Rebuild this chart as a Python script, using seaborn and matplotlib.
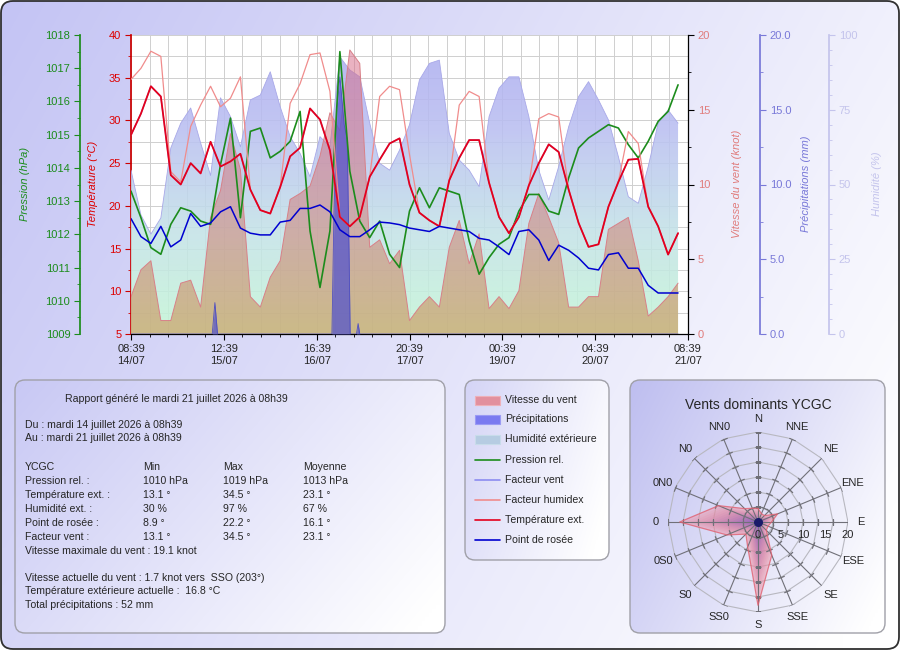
import numpy as np
import pandas as pd
import matplotlib
matplotlib.use("Agg")
import matplotlib.pyplot as plt
import seaborn as sns
from matplotlib.patches import FancyBboxPatch, Rectangle
from matplotlib.lines import Line2D
from matplotlib.ticker import MultipleLocator, FixedLocator, FormatStrFormatter

sns.set_theme(style="white")
plt.rcParams['font.family'] = ['Liberation Sans', 'DejaVu Sans']

# ---------------- data ----------------
hours = np.arange(0, 166, 3)  # hours since 14/07 08:39

temperature = [28.3, 30.8, 34.0, 32.8, 23.6, 22.5, 25.0, 23.8, 27.5, 24.6,
               25.2, 26.1, 21.9, 19.5, 19.1, 22.2, 25.8, 26.8, 31.4, 30.1,
               26.5, 18.7, 17.6, 18.7, 23.4, 25.4, 27.3, 27.9, 22.5, 19.2,
               18.3, 17.6, 23.0, 25.6, 27.7, 27.7, 22.7, 18.7, 16.8, 18.7,
               22.4, 25.0, 27.2, 26.3, 21.9, 18.0, 15.2, 15.5, 19.9, 22.8,
               25.4, 25.5, 19.9, 17.6, 14.3, 16.8]

humidex = [34.8, 36.1, 38.1, 37.5, 24.0, 22.8, 29.3, 31.8, 34.0, 31.6,
           32.6, 35.1, 21.9, 19.5, 19.1, 22.2, 32.0, 34.3, 37.7, 37.9,
           33.4, 18.7, 17.6, 18.7, 23.4, 32.8, 34.0, 33.6, 26.0, 19.2,
           18.3, 17.6, 23.0, 31.8, 33.4, 32.8, 22.7, 18.7, 16.8, 18.7,
           22.4, 30.2, 30.8, 30.4, 21.9, 18.0, 15.2, 15.5, 19.9, 22.8,
           28.7, 27.3, 19.9, 17.6, 14.3, 16.8]

windchill = [28.3, 30.8, 34.0, 32.8, 23.6, 22.5, 25.0, 23.8, 27.5, 24.6,
             25.2, 26.1, 21.9, 19.5, 19.1, 22.2, 25.8, 26.8, 31.4, 30.1,
             26.5, 18.7, 17.6, 18.7, 23.4, 25.4, 27.3, 27.9, 22.5, 19.2,
             18.3, 17.6, 23.0, 25.6, 27.7, 27.7, 22.7, 18.7, 16.8, 18.7,
             22.4, 25.0, 27.2, 26.3, 21.9, 18.0, 15.2, 15.5, 19.9, 22.8,
             25.4, 25.5, 19.9, 17.6, 14.3, 16.8]

dewpoint = [18.5, 16.4, 15.6, 17.6, 15.2, 16.0, 19.1, 17.6, 18.0, 19.3,
            19.9, 17.4, 16.8, 16.6, 16.6, 18.1, 18.3, 19.7, 19.7, 20.1,
            19.3, 17.2, 16.4, 16.4, 17.2, 18.1, 18.0, 17.8, 17.4, 17.2,
            17.0, 17.6, 17.4, 17.2, 17.0, 16.2, 16.0, 15.2, 14.3, 17.0,
            17.2, 16.0, 13.6, 15.4, 14.8, 13.9, 12.7, 12.5, 14.3, 14.5,
            12.7, 12.7, 10.7, 9.8, 9.8, 9.8]

pressure = [1013.3, 1012.5, 1011.6, 1011.4, 1012.3, 1012.8, 1012.7, 1012.4, 1012.3, 1014.1,
            1015.5, 1012.5, 1015.1, 1015.2, 1014.3, 1014.5, 1014.8, 1015.7, 1012.1, 1010.4,
            1012.1, 1017.5, 1013.9, 1012.4, 1011.9, 1012.4, 1011.4, 1011.0, 1012.7, 1013.4,
            1012.8, 1013.4, 1013.3, 1013.2, 1011.8, 1010.8, 1011.3, 1011.7, 1011.9, 1012.7,
            1013.2, 1013.2, 1012.7, 1012.6, 1013.7, 1014.6, 1014.9, 1015.1, 1015.3, 1015.2,
            1014.7, 1014.3, 1014.8, 1015.4, 1015.7, 1016.5]

humidity = [54.8, 39.8, 33.4, 38.8, 62.2, 70.5, 75.6, 63.9, 53.0, 79.0,
            72.7, 62.6, 78.3, 79.9, 87.7, 76.0, 66.0, 60.4, 52.6, 66.0,
            62.6, 92.7, 88.3, 86.0, 70.5, 57.1, 54.8, 61.5, 70.0, 85.0,
            90.5, 91.6, 67.1, 58.2, 54.8, 49.3, 72.7, 82.2, 86.0, 86.0,
            72.7, 54.8, 44.8, 56.0, 69.3, 79.4, 84.4, 78.3, 71.6, 59.3,
            45.9, 43.7, 56.0, 70.5, 74.9, 70.5]

wind = [2.5, 4.3, 4.9, 0.9, 0.9, 3.4, 3.6, 1.8, 7.8, 9.6,
        13.4, 11.0, 2.5, 1.8, 3.8, 4.9, 9.0, 9.4, 9.9, 11.9,
        14.8, 13.6, 19.0, 18.1, 5.8, 6.3, 4.7, 5.6, 0.9, 1.8,
        2.5, 1.8, 5.8, 7.6, 4.7, 6.7, 1.7, 2.5, 1.7, 2.9,
        7.4, 9.4, 7.8, 6.1, 1.8, 1.8, 2.5, 2.5, 7.0, 7.4,
        7.8, 4.9, 1.2, 1.8, 2.5, 3.4]

rain_hours = [0, 24.5, 25.3, 26.1, 60.6, 61.2, 62.1, 63.0, 64.3, 65.2, 65.8, 66.1, 68.0, 68.5, 69.0, 165]
rain_mm = [0, 0, 2.1, 0, 0, 8.0, 15.0, 17.2, 14.0, 13.0, 5.0, 0, 0, 0.7, 0, 0]

tick_hours = [0, 28, 56, 84, 112, 140, 168]
tick_labels = ["08:39\n14/07", "12:39\n15/07", "16:39\n16/07", "20:39\n17/07",
               "00:39\n19/07", "04:39\n20/07", "08:39\n21/07"]

rose_dirs = ["N", "NNE", "NE", "ENE", "E", "ESE", "SE", "SSE",
             "S", "SS0", "S0", "0S0", "0", "0N0", "N0", "NN0"]
rose_vals = [3.0, 2.0, 2.0, 4.7, 3.0, 2.4, 2.6, 8.0,
             18.5, 6.0, 3.8, 7.5, 17.4, 9.5, 4.2, 3.3]

stat_rows = ["YCGC", "Pression rel. :", "Température ext. :", "Humidité ext. :",
             "Point de rosée :", "Facteur vent :"]
stat_min = ["Min", "1010 hPa", "13.1 °", "30 %", "8.9 °", "13.1 °"]
stat_max = ["Max", "1019 hPa", "34.5 °", "97 %", "22.2 °", "34.5 °"]
stat_avg = ["Moyenne", "1013 hPa", "23.1 °", "67 %", "16.1 °", "23.1 °"]

legend_labels = ["Vitesse du vent", "Précipitations", "Humidité extérieure", "Pression rel.",
                 "Facteur vent", "Facteur humidex", "Température ext.", "Point de rosée"]

# ---------------- colours ----------------
C_PRES = "#1c8c1c"
C_TEMP = "#e4001c"
C_DEW = "#0000d0"
C_HUMIDEX = "#f08c8c"
C_CHILL = "#8c8cf0"
C_WINDTXT = "#e07c7c"
C_RAIN = "#7878d8"
C_HUM = "#c4c4ec"

W, H = 900, 650
fig = plt.figure(figsize=(9, 6.5), dpi=100)
fig.patch.set_facecolor("white")


def fx(x):
    return x / W


def fy(y):
    return 1 - y / H


canvas = fig.add_axes([0, 0, 1, 1], zorder=-5)
canvas.set_xlim(0, W)
canvas.set_ylim(H, 0)
canvas.axis('off')


def grad_img(c0, c1, wx, wy, n=120):
    xs = np.linspace(0, 1, n)
    X, Y = np.meshgrid(xs, xs)
    t = np.clip(wx * X + wy * Y, 0, 1)[..., None]
    a = np.array(c0) / 255.0
    b = np.array(c1) / 255.0
    return a[None, None, :] * (1 - t) + b[None, None, :] * t


def rounded_box(x0, y0, x1, y1, c0, c1, wx, wy, r=10, ec="#a0a0a8", lw=1.0):
    patch = FancyBboxPatch((x0, y0), x1 - x0, y1 - y0,
                           boxstyle=f"round,pad=0,rounding_size={r}",
                           facecolor="none", edgecolor=ec, linewidth=lw, zorder=2)
    canvas.add_patch(patch)
    im = canvas.imshow(grad_img(c0, c1, wx, wy), extent=(x0, x1, y1, y0), origin='upper',
                       aspect='auto', zorder=1, interpolation='bilinear')
    im.set_clip_path(patch)


LAV = (196, 196, 244)
rounded_box(1, 1, 899, 649, LAV, (255, 255, 255), 0.75, 0.3, r=12, ec="#303030", lw=1.3)
rounded_box(15, 380, 445, 633, (200, 200, 244), (255, 255, 255), 0.7, 0.35, r=10)
rounded_box(465, 380, 609, 560, (212, 212, 246), (255, 255, 255), 0.8, 0.3, r=10)
rounded_box(630, 380, 885, 633, (190, 190, 240), (255, 255, 255), 0.7, 0.35, r=10)
canvas.set_xlim(0, W)
canvas.set_ylim(H, 0)

# ---------------- main chart ----------------
L, R, T, B = 131, 688, 35, 334
ax = fig.add_axes([fx(L), fy(B), (R - L) / W, (B - T) / H])
ax.set_facecolor("white")

ax_hum = ax.twinx()
ax_wind = ax.twinx()
ax_rain = ax.twinx()
ax_pres = ax.twinx()
ax_temp = ax.twinx()

FS = 8
FS_BOX = 7.6


def gradient_area(axx, x, y, stops, ymax, alpha, z=1):
    coll = axx.fill_between(x, 0, y, facecolor='none', edgecolor='none')
    n = 256
    v = np.linspace(0, 1, n)
    pos = [s[0] for s in stops]
    rgb = np.stack([np.interp(v, pos, [s[1][i] / 255.0 for s in stops]) for i in range(3)], axis=-1)
    img = np.concatenate([rgb.reshape(n, 1, 3), np.full((n, 1, 1), alpha)], axis=2)
    im = axx.imshow(img, extent=(x[0], x[-1], 0, ymax), origin='lower', aspect='auto',
                    zorder=z, interpolation='bilinear')
    im.set_clip_path(coll.get_paths()[0], transform=axx.transData)


# humidity area
gradient_area(ax_hum, hours, humidity,
              [(0.0, (196, 246, 214)), (0.35, (196, 226, 232)), (0.7, (186, 190, 242)), (1.0, (172, 172, 240))],
              100, 0.88)
sns.lineplot(x=hours, y=humidity, ax=ax_hum, color="#a8a8e8", linewidth=0.6, legend=False)

# wind area
gradient_area(ax_wind, hours, wind,
              [(0.0, (204, 130, 60)), (0.4, (208, 120, 115)), (1.0, (218, 105, 140))],
              20, 0.52)
sns.lineplot(x=hours, y=wind, ax=ax_wind, color="#d88088", linewidth=0.7, legend=False)

# precipitation area
ax_rain.fill_between(rain_hours, 0, rain_mm, color=(0.33, 0.33, 0.80), alpha=0.75, linewidth=0)
sns.lineplot(x=rain_hours, y=rain_mm, ax=ax_rain, color="#5050c0", linewidth=0.6, legend=False)

# lines
sns.lineplot(x=hours, y=pressure, ax=ax_pres, color=C_PRES, linewidth=1.2, legend=False)
sns.lineplot(x=hours, y=windchill, ax=ax_temp, color=C_CHILL, linewidth=1.0, legend=False)
sns.lineplot(x=hours, y=humidex, ax=ax_temp, color=C_HUMIDEX, linewidth=0.9, legend=False)
sns.lineplot(x=hours, y=temperature, ax=ax_temp, color=C_TEMP, linewidth=1.3, legend=False)
sns.lineplot(x=hours, y=dewpoint, ax=ax_temp, color=C_DEW, linewidth=1.1, legend=False)

# limits
ax.set_xlim(0, 168)
ax.set_ylim(5, 40)
ax_hum.set_ylim(0, 100)
ax_wind.set_ylim(0, 20)
ax_rain.set_ylim(0, 20)
ax_pres.set_ylim(1009, 1018)
ax_temp.set_ylim(5, 40)

for a in [ax, ax_hum, ax_wind, ax_rain, ax_pres, ax_temp]:
    for s in a.spines.values():
        s.set_visible(False)
    a.set_ylabel("")
    a.set_xlabel("")

# host: temperature scale + grid + x axis
ax.grid(True, which='both', color="#cfcfcf", linewidth=0.7)
ax.set_axisbelow(True)
ax.xaxis.set_major_locator(FixedLocator(tick_hours))
ax.set_xticklabels(tick_labels, fontsize=FS, linespacing=1.3)
ax.xaxis.set_minor_locator(MultipleLocator(5.6))
ax.tick_params(axis='x', which='major', bottom=True, length=4, width=0.8, color='black', direction='out', pad=3)
ax.tick_params(axis='x', which='minor', bottom=True, length=2, width=0.6, color='black', direction='out')
ax.spines['bottom'].set_visible(True)
ax.spines['bottom'].set_color('black')
ax.spines['bottom'].set_linewidth(0.9)
ax.spines['left'].set_visible(True)
ax.spines['left'].set_color('#cc0000')
ax.yaxis.set_major_locator(MultipleLocator(5))
ax.yaxis.set_minor_locator(MultipleLocator(2.5))
ax.tick_params(axis='y', which='major', left=True, length=4, width=0.8, color='#cc0000',
               labelcolor='#dd0000', labelsize=FS, direction='out', pad=3)
ax.tick_params(axis='y', which='minor', left=True, length=2, width=0.6, color='#cc0000', direction='out')

# temperature lines axis: no decorations
ax_temp.set_yticks([])
ax_temp.tick_params(right=False, labelright=False)

# pressure axis (left, offset)
ax_pres.yaxis.set_ticks_position('left')
ax_pres.yaxis.set_label_position('left')
ax_pres.spines['left'].set_visible(True)
ax_pres.spines['left'].set_position(('axes', (80 - L) / (R - L)))
ax_pres.spines['left'].set_color(C_PRES)
ax_pres.yaxis.set_major_locator(MultipleLocator(1))
ax_pres.yaxis.set_minor_locator(MultipleLocator(0.5))
ax_pres.yaxis.set_major_formatter(FormatStrFormatter('%d'))
ax_pres.tick_params(axis='y', which='major', left=True, right=False, labelleft=True, labelright=False,
                    length=4, width=0.8, color=C_PRES, labelcolor=C_PRES, labelsize=FS, direction='out', pad=3)
ax_pres.tick_params(axis='y', which='minor', left=True, right=False, length=2, width=0.6, color=C_PRES,
                    direction='out')

# wind axis (right, black spine)
ax_wind.spines['right'].set_visible(True)
ax_wind.spines['right'].set_color('black')
ax_wind.spines['right'].set_linewidth(0.9)
ax_wind.yaxis.set_major_locator(MultipleLocator(5))
ax_wind.yaxis.set_minor_locator(MultipleLocator(2.5))
ax_wind.tick_params(axis='y', which='major', right=True, length=4, width=0.8, color='black',
                    labelcolor=C_WINDTXT, labelsize=FS, direction='out', pad=3)
ax_wind.tick_params(axis='y', which='minor', right=True, length=2, width=0.6, color='black', direction='out')

# precipitation axis
ax_rain.spines['right'].set_visible(True)
ax_rain.spines['right'].set_position(('axes', (760 - L) / (R - L)))
ax_rain.spines['right'].set_color(C_RAIN)
ax_rain.yaxis.set_major_locator(MultipleLocator(5))
ax_rain.yaxis.set_minor_locator(MultipleLocator(2.5))
ax_rain.yaxis.set_major_formatter(FormatStrFormatter('%.1f'))
ax_rain.tick_params(axis='y', which='major', right=True, length=4, width=0.8, color=C_RAIN,
                    labelcolor=C_RAIN, labelsize=FS, direction='out', pad=3)
ax_rain.tick_params(axis='y', which='minor', right=True, length=2, width=0.6, color=C_RAIN, direction='out')

# humidity axis
ax_hum.spines['right'].set_visible(True)
ax_hum.spines['right'].set_position(('axes', (829 - L) / (R - L)))
ax_hum.spines['right'].set_color(C_HUM)
ax_hum.yaxis.set_major_locator(MultipleLocator(25))
ax_hum.yaxis.set_minor_locator(MultipleLocator(5))
ax_hum.tick_params(axis='y', which='major', right=True, length=4, width=0.8, color=C_HUM,
                   labelcolor=C_HUM, labelsize=FS, direction='out', pad=3)
ax_hum.tick_params(axis='y', which='minor', right=True, length=2, width=0.6, color=C_HUM, direction='out')

# axis titles
ymid = fy(184)
fig.text(fx(25), ymid, "Pression (hPa)", rotation=90, ha='center', va='center', color=C_PRES,
         fontsize=FS, style='italic')
fig.text(fx(93), ymid, "Température (°C)", rotation=90, ha='center', va='center', color='#dd0000',
         fontsize=FS, style='italic')
fig.text(fx(737), ymid, "Vitesse du vent (knot)", rotation=90, ha='center', va='center', color=C_WINDTXT,
         fontsize=FS, style='italic')
fig.text(fx(806), ymid, "Précipitations (mm)", rotation=90, ha='center', va='center', color=C_RAIN,
         fontsize=FS, style='italic')
fig.text(fx(877), ymid, "Humidité (%)", rotation=90, ha='center', va='center', color=C_HUM,
         fontsize=FS, style='italic')

# ---------------- stats box ----------------
canvas.text(65, 399, "Rapport généré le mardi 21 juillet 2026 à 08h39", fontsize=FS_BOX, va='center', ha='left')
canvas.text(25, 425, "Du : mardi 14 juillet 2026 à 08h39", fontsize=FS_BOX, va='center')
canvas.text(25, 438, "Au : mardi 21 juillet 2026 à 08h39", fontsize=FS_BOX, va='center')
row_y = [467, 481, 495, 509, 523, 537]
for i, yy in enumerate(row_y):
    canvas.text(25, yy, stat_rows[i], fontsize=FS_BOX, va='center')
    canvas.text(143, yy, stat_min[i], fontsize=FS_BOX, va='center')
    canvas.text(223, yy, stat_max[i], fontsize=FS_BOX, va='center')
    canvas.text(303, yy, stat_avg[i], fontsize=FS_BOX, va='center')
canvas.text(25, 551, "Vitesse maximale du vent : 19.1 knot", fontsize=FS_BOX, va='center')
canvas.text(25, 578, "Vitesse actuelle du vent : 1.7 knot vers  SSO (203°)", fontsize=FS_BOX, va='center')
canvas.text(25, 591, "Température extérieure actuelle :  16.8 °C", fontsize=FS_BOX, va='center')
canvas.text(25, 605, "Total précipitations : 52 mm", fontsize=FS_BOX, va='center')

# ---------------- legend box ----------------
leg_y = [400, 419, 439, 460, 480, 500, 520, 540]
swatch_fc = ["#e2909e", "#7a7af0", "#b6cce2"]
swatch_ec = ["#eeb0b8", "#9a9af4", "#c8dcea"]
line_cols = [C_PRES, C_CHILL, C_HUMIDEX, C_TEMP, C_DEW]
for i, yy in enumerate(leg_y):
    if i < 3:
        canvas.add_patch(Rectangle((475, yy - 4.5), 25, 9, facecolor=swatch_fc[i], edgecolor=swatch_ec[i],
                                   linewidth=0.8, zorder=3))
    else:
        canvas.add_line(Line2D([475, 500], [yy, yy], color=line_cols[i - 3], linewidth=1.2, zorder=3))
    canvas.text(505, yy, legend_labels[i], fontsize=FS_BOX, va='center', zorder=3)

# ---------------- wind rose ----------------
cx, cy, rad = 758, 522, 90
axp = fig.add_axes([fx(cx - rad), fy(cy + rad), 2 * rad / W, 2 * rad / H], projection='polar')
axp.set_theta_zero_location('N')
axp.set_theta_direction(-1)
axp.axis('off')
angles = np.deg2rad(np.arange(16) * 22.5)
ang_c = np.append(angles, angles[0])
RMAX = 20
for i in range(1, 7):
    rr = RMAX * i / 6
    axp.plot(ang_c, [rr] * 17, color="#b8b8c0", linewidth=0.8, zorder=1)

vals_c = np.append(np.array(rose_vals), rose_vals[0])
pink = np.array([236, 140, 160]) / 255
blue = np.array([70, 70, 210]) / 255
nlay = 14
for j in range(nlay):
    s = 1 - j / nlay
    mix = (1 - s) ** 1.3
    col = pink * (1 - mix) + blue * mix
    axp.fill(ang_c, vals_c * s, color=col, alpha=0.16 if j else 0.45, linewidth=0, zorder=2)
axp.plot(ang_c, vals_c, color="#e06070", linewidth=0.9, alpha=0.8, zorder=4)

for k, a in enumerate(angles):
    axp.plot([a, a], [0, RMAX], color="#707078", linewidth=0.8, zorder=3)
    axp.plot([a] * 6, [RMAX * i / 6 for i in range(1, 7)], linestyle='none',
             marker=(2, 0, 90 - k * 22.5), markersize=5, markeredgewidth=0.9,
             markeredgecolor="#707078", zorder=3)
    axp.text(a, 22.8, rose_dirs[k], ha='center', va='center', fontsize=FS, clip_on=False)
axp.scatter([0], [0], s=30, color="#1a1a6a", zorder=5)
for v in [0, 5, 10, 15, 20]:
    axp.annotate(str(v), xy=(np.pi / 2, v), xytext=(0, -9), textcoords='offset points',
                 ha='center', va='center', fontsize=FS, annotation_clip=False)
axp.set_ylim(0, RMAX)
canvas.text(758, 405, "Vents dominants YCGC", fontsize=10, ha='center', va='center')

fig.savefig("out.png", dpi=100)
